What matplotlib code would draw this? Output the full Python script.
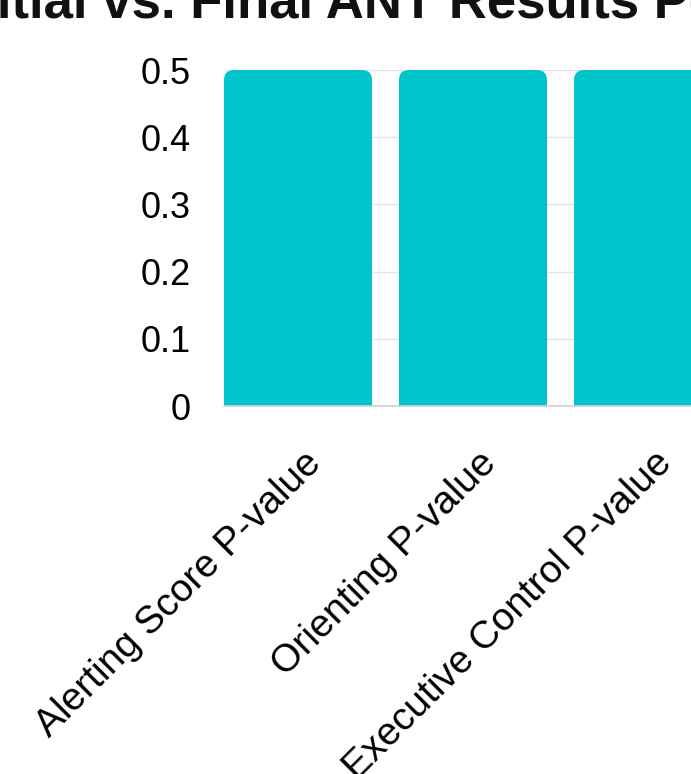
import matplotlib
matplotlib.use("Agg")
import matplotlib.pyplot as plt
from matplotlib.patches import FancyBboxPatch
from matplotlib.transforms import ScaledTranslation

plt.rcParams['font.family'] = ['Liberation Sans', 'DejaVu Sans']

title = "Initial vs. Final ANT Results P-values"
categories = ["Alerting Score P-value", "Orienting P-value", "Executive Control P-value"]
values = [0.5, 0.5, 0.5]
yticks = [0, 0.1, 0.2, 0.3, 0.4, 0.5]
ytick_labels = ["0", "0.1", "0.2", "0.3", "0.4", "0.5"]

BAR_COLOR = "#00C5CC"
DPI = 100
W, H = 691, 774

fig = plt.figure(figsize=(W / DPI, H / DPI), dpi=DPI)

# axes in pixels: left 224, bottom (from top) 406, top 70; runs off the right edge
ax_left, ax_bottom, ax_top = 224, 406, 70
step = 175.0  # px per category
bar_w = 148 / step
ax_width_px = step * 3
ax = fig.add_axes([ax_left / W, (H - ax_bottom) / H, ax_width_px / W, (ax_bottom - ax_top) / H])

x = list(range(len(categories)))
bars = ax.bar(x, values, width=bar_w, color=BAR_COLOR, zorder=2, linewidth=0)

ax.set_xlim(-bar_w / 2, -bar_w / 2 + 3)
ax.set_ylim(0, 0.5)

# rounded top corners
rx = 10 / step
ry = 10 * 0.5 / (ax_bottom - ax_top)
for b in bars:
    h = b.get_height()
    b.set_height(h - ry)
    ax.add_patch(FancyBboxPatch((b.get_x(), h - 2 * ry), b.get_width(), 2 * ry,
                                boxstyle=f"round,pad=0,rounding_size={rx}",
                                mutation_aspect=ry / rx, color=BAR_COLOR,
                                linewidth=0, zorder=2))

ax.set_yticks(yticks)
ax.set_yticklabels(ytick_labels, fontsize=26)
ax.yaxis.grid(True, color="#e4e4e4", linewidth=1, zorder=0)
ax.set_axisbelow(True)

ax.set_xticks(x)
ax.set_xticklabels(categories, fontsize=28, rotation=45, ha="right", va="center",
                   rotation_mode="anchor")
ax.tick_params(axis="both", length=0)
ax.tick_params(axis="y", pad=24)
ax.tick_params(axis="x", pad=37)
for lab in ax.get_xticklabels():
    lab.set_transform(lab.get_transform() + ScaledTranslation(18 / DPI, 0, fig.dpi_scale_trans))

for s in ["top", "right", "left"]:
    ax.spines[s].set_visible(False)
ax.spines["bottom"].set_color("#d0d0d0")
ax.spines["bottom"].set_linewidth(1.2)

fig.text(-50 / W, 1 - 17 / H, title, fontsize=38, fontweight="bold",
         ha="left", va="baseline", color="#111111")

fig.savefig("out.png", dpi=DPI)
